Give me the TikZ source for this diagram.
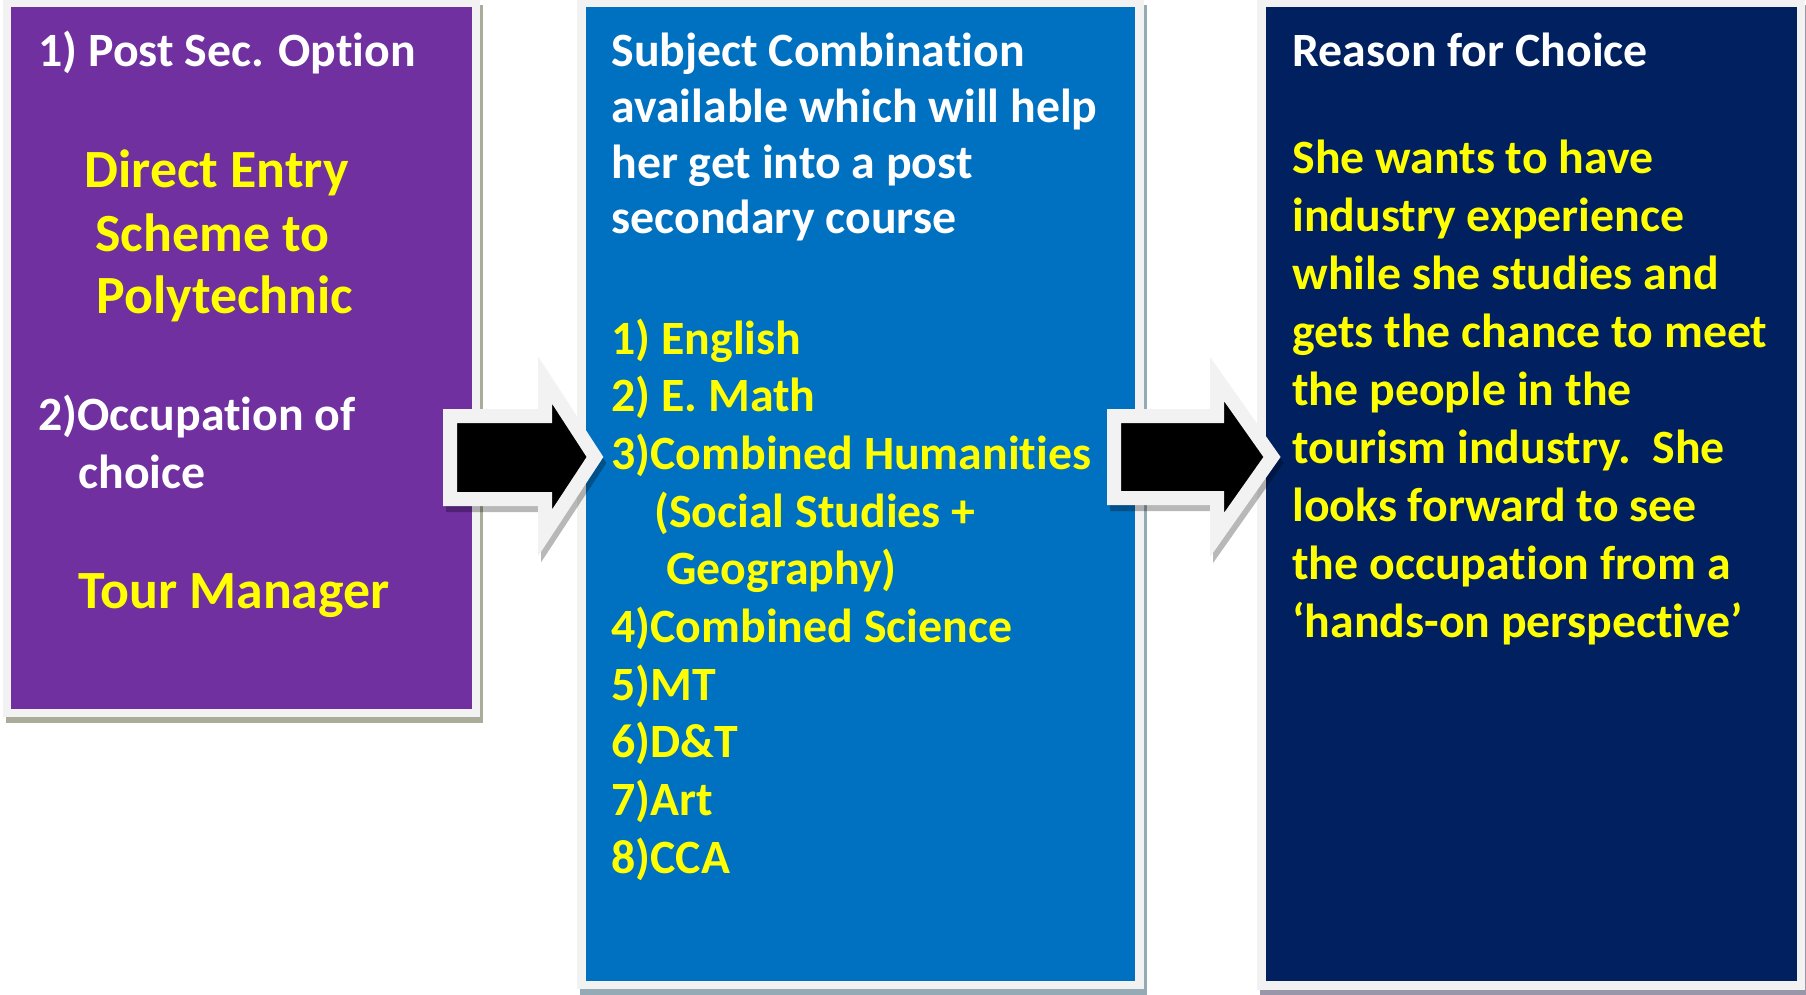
\documentclass[tikz,border=0pt]{standalone}
\usepackage{fontspec}
\setmainfont{Carlito}[Ligatures={TeX,NoCommon}]
\definecolor{cpurple}{HTML}{7030A0}
\definecolor{cblue}{HTML}{0070C0}
\definecolor{cnavy}{HTML}{002060}
\definecolor{cyel}{HTML}{FFFF00}
\definecolor{cframe}{HTML}{F2F2F2}
\definecolor{shp}{HTML}{A8AC98}
\definecolor{shb}{HTML}{94AAB4}
\definecolor{shn}{HTML}{9A96AA}
\tikzset{
  wt/.style={anchor=base west, inner sep=0pt, text=white, font=\fontsize{23.9}{28}\selectfont\bfseries},
  yt/.style={anchor=base west, inner sep=0pt, text=cyel, font=\fontsize{23.9}{28}\selectfont\bfseries},
  ybig/.style={anchor=base west, inner sep=0pt, text=cyel, font=\fontsize{26.9}{30}\selectfont\bfseries},
  arrowline/.style={draw=cframe, line width=7pt, line join=miter, fill=black},
  arrowshadow/.style={draw=black, fill=black, line width=7pt, line join=miter, opacity=0.28},
}
\begin{document}
\begin{tikzpicture}[x=0.5pt,y=-0.5pt]
\useasboundingbox[fill=white] (0,0) rectangle (1806,995);
% box shadows
\fill[shp] (6,5) rectangle (483,723);
\fill[shb] (580,5) rectangle (1147,995);
\fill[shn] (1260,5) rectangle (1808,995);
% frames
\fill[cframe] (3,0) rectangle (480,717);
\fill[cframe] (577,0) rectangle (1144,989);
\fill[cframe] (1257,0) rectangle (1805,990);
% fills
\fill[cpurple] (11,7) rectangle (472,709);
\fill[cblue] (586,7) rectangle (1135,981);
\fill[cnavy] (1266,7) rectangle (1797,981);
% arrows
\path[arrowshadow] (453,422) -- (548,422) -- (548,386) -- (598,463) -- (548,539) -- (548,505) -- (453,505) -- cycle;
\path[arrowline] (450,416) -- (545,416) -- (545,380) -- (595,457) -- (545,533) -- (545,499) -- (450,499) -- cycle;
\path[arrowshadow] (1117,422) -- (1220,422) -- (1220,385) -- (1275,463) -- (1220,541) -- (1220,504) -- (1117,504) -- cycle;
\path[arrowline] (1114,416) -- (1217,416) -- (1217,379) -- (1272,457) -- (1217,535) -- (1217,498) -- (1114,498) -- cycle;
% purple texts
\node[wt] (p1) at (38,67) {1) Post Sec. Option};
\node[ybig] (p2) at (84,188) {Direct Entry};
\node[ybig] (p3) at (95,251) {Scheme to};
\node[ybig] (p4) at (96,314) {Polytechnic};
\node[wt] (p5) at (38,430) {2)Occupation of};
\node[wt] (p6) at (78,488) {choice};
\node[ybig] (p7) at (78,608) {Tour Manager};
% blue texts
\node[wt] (b1) at (611,67) {Subject Combination};
\node[wt] (b2) at (611,122.5) {available which will help};
\node[wt] (b3) at (611,178) {her get into a post};
\node[wt] (b4) at (611,233.5) {secondary course};
\node[yt] (l1) at (611,354) {1) English};
\node[yt] (l2) at (611,411.7) {2) E. Math};
\node[yt] (l3) at (611,469.4) {3)Combined Humanities};
\node[yt] (l4) at (654,527.1) {(Social Studies +};
\node[yt] (l5) at (666,584.8) {Geography)};
\node[yt] (l6) at (611,642.5) {4)Combined Science};
\node[yt] (l7) at (611,700.2) {5)MT};
\node[yt] (l8) at (611,757.9) {6)D\&T};
\node[yt] (l9) at (611,815.6) {7)Art};
\node[yt] (l10) at (611,873.3) {8)CCA};
% navy texts
\node[wt] (n0) at (1292,67) {Reason for Choice};
\node[yt] (n1) at (1292,174) {She wants to have};
\node[yt] (n2) at (1292,231.9) {industry experience};
\node[yt] (n3) at (1292,289.8) {while she studies and};
\node[yt] (n4) at (1292,347.7) {gets the chance to meet};
\node[yt] (n5) at (1292,405.6) {the people in the};
\node[yt] (n6) at (1292,463.5) {tourism industry.\ \ She};
\node[yt] (n7) at (1292,521.4) {looks forward to see};
\node[yt] (n8) at (1292,579.3) {the occupation from a};
\node[yt] (n9) at (1292,637.2) {‘hands-on perspective’};
\end{tikzpicture}
\end{document}
